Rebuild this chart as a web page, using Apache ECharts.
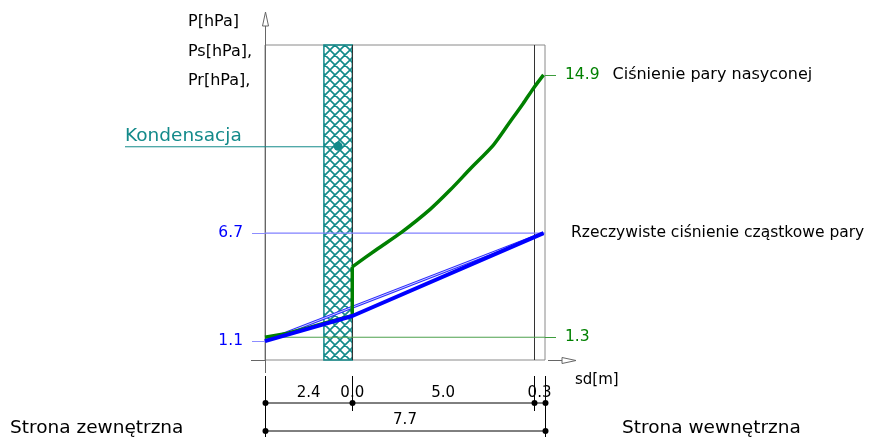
<!DOCTYPE html>
<html>
<head>
<meta charset="utf-8">
<script src="https://cdn.jsdelivr.net/npm/echarts@6/dist/echarts.min.js"></script>
<style>
  html, body { margin: 0; padding: 0; background: #fff; }
  #chart { width: 871px; height: 437px; }
</style>
</head>
<body>
<div id="chart"></div>
<script>
// warstwy (grubosci sd w m) i strefa kondensacji
const layerSd = [2.4, 0.0, 5.0, 0.3]
const condZone = [1.62, 2.4]
const condPoint = [2.01, 11.2]

// cisnienie pary nasyconej Ps (skok na granicy warstw przy sd = 2.4)
const psX = [0, 0.6, 1.2, 1.8, 2.4, 2.4, 3.07, 3.76, 4.54, 5.09, 5.64, 6.28, 6.74, 7.10, 7.38, 7.66]
const psY = [1.3, 1.5, 1.8, 2.12, 2.42, 4.95, 5.85, 6.75, 7.93, 8.93, 10.02, 11.26, 12.47, 13.42, 14.2, 14.9]
const psJump = 5

// rzeczywiste cisnienie czastkowe Pr
const prX = [0, 2.4, 7.66]
const prY = [1.1, 2.4, 6.7]
const prLineX = [0, 7.66]
const prLineY = [1.1, 6.7]

const leftTicks = [1.1, 6.7]
const rightTicks = [1.3, 14.9]

const FONT = 'DejaVu Sans'
const BLUE = '#0000ff'
const GREEN = '#008000'
const TEAL = '#138a8a'
const yMin = 0.12, yMax = 16.45

const cum = [0]
layerSd.forEach(t => cum.push(+(cum[cum.length - 1] + t).toFixed(2)))
const totalSd = cum[cum.length - 1]

const hatch = () => {
  const c = document.createElement('canvas')
  c.width = 10; c.height = 10
  const g = c.getContext('2d')
  g.strokeStyle = TEAL; g.lineWidth = 1.6
  g.beginPath()
  for (const dx of [-10, 0, 10]) {
    g.moveTo(dx, 0); g.lineTo(dx + 10, 10)
    g.moveTo(dx + 10, 0); g.lineTo(dx, 10)
  }
  g.stroke()
  return c
}

const zip = (xs, ys) => xs.map((x, i) => [x, ys[i]])
const hLine = (y, color, width, label) => ({
  type: 'line', data: [[0, y], [totalSd, y]], z: 2, silent: true, symbol: 'none',
  lineStyle: { color, width },
  endLabel: label
    ? { show: true, distance: 26, formatter: label, color: '#000', fontSize: 15.5, fontFamily: FONT }
    : { show: false },
})

const chart = echarts.init(document.getElementById('chart'))
chart.setOption({
  animation: false,
  grid: {
    left: 265, top: 45, width: 280, height: 315, show: true,
    borderColor: '#8a8a8a', borderWidth: 1, backgroundColor: 'transparent',
    outerBoundsMode: 'none',
  },
  xAxis: {
    type: 'value', min: 0, max: totalSd,
    axisLine: { show: false }, axisTick: { show: false }, axisLabel: { show: false }, splitLine: { show: false },
  },
  yAxis: [
    {
      type: 'value', min: yMin, max: yMax, position: 'left',
      axisLine: { show: false }, splitLine: { show: false },
      axisTick: { show: true, customValues: leftTicks, length: 13, lineStyle: { color: '#8c8cff', width: 1 } },
      axisLabel: { show: true, customValues: leftTicks, margin: 22, color: BLUE, fontSize: 15.5, fontFamily: FONT },
    },
    {
      type: 'value', min: yMin, max: yMax, position: 'right',
      axisLine: { show: false }, splitLine: { show: false },
      axisTick: { show: true, customValues: rightTicks, length: 11, lineStyle: { color: '#3c9c3c', width: 1 } },
      axisLabel: {
        show: true, customValues: rightTicks, margin: 20, fontSize: 15.5, fontFamily: FONT,
        formatter: v => v === rightTicks[1] ? `{g|${v}}{k|Ciśnienie pary nasyconej}` : `{g|${v}}`,
        rich: {
          g: { color: GREEN, fontSize: 15.5, fontFamily: FONT },
          k: { color: '#000', fontSize: 16, fontFamily: FONT, padding: [0, 0, 0, 13] },
        },
      },
    },
  ],
  series: [
    {
      type: 'line', data: [], z: 1, silent: true,
      markArea: {
        silent: true, z: 1,
        itemStyle: { color: { image: hatch(), repeat: 'repeat' }, borderColor: TEAL, borderWidth: 1.5 },
        data: [[{ xAxis: condZone[0], yAxis: yMax }, { xAxis: condZone[1], yAxis: yMin }]],
      },
      markLine: {
        silent: true, symbol: 'none', label: { show: false }, z: 1,
        lineStyle: { color: '#333', width: 1, type: 'solid' },
        data: cum.slice(1, -1).map(b => ({ xAxis: b })),
      },
    },
    hLine(leftTicks[1], '#8080ff', 1.3, 'Rzeczywiste ciśnienie cząstkowe pary'),
    hLine(rightTicks[0], '#4ca04c', 1, null),
    {
      type: 'line', data: zip(prLineX, prLineY), z: 3, symbol: 'none', silent: true,
      lineStyle: { color: '#2a2aff', width: 3 },
    },
    {
      type: 'line', data: zip(prLineX, prLineY), z: 3, symbol: 'none', silent: true,
      lineStyle: { color: '#d0d0ff', width: 1 },
    },
    {
      name: 'Ps', type: 'line', data: zip(psX, psY).slice(0, psJump + 1), z: 4, symbol: 'none', silent: true,
      lineStyle: { color: GREEN, width: 3.5 },
    },
    {
      name: 'Ps', type: 'line', data: zip(psX, psY).slice(psJump), z: 4, symbol: 'none', silent: true,
      smooth: 0.25,
      lineStyle: { color: GREEN, width: 3.5 },
    },
    {
      name: 'Pr', type: 'line', data: zip(prX, prY), z: 5, symbol: 'none', silent: true,
      lineStyle: { color: BLUE, width: 4 },
    },
    {
      type: 'scatter', data: [condPoint], z: 6, symbolSize: 9, silent: true,
      itemStyle: { color: TEAL, opacity: 1 },
    },
  ],
})

// dekoracje: osie ze strzalkami, podpisy, wymiarowanie
const px = p => chart.convertToPixel({ gridIndex: 0 }, p)
const [x0, yb] = px([0, yMin])
const [x1] = px([totalSd, yMin])
const axisCol = '#666'
const txt = (x, y, text, opt = {}) => ({
  type: 'text', x, y,
  style: Object.assign({ text, fill: '#000', fontSize: 16, fontFamily: FONT, align: 'left', verticalAlign: 'middle' }, opt),
})
const ln = (xa, ya, xb, yb2, stroke = '#000', lw = 1) => ({
  type: 'line', shape: { x1: xa, y1: ya, x2: xb, y2: yb2 }, style: { stroke, lineWidth: lw },
})
const g = []

g.push(ln(x0 + 0.5, 14, x0 + 0.5, yb + 13, axisCol))
g.push({ type: 'polygon', shape: { points: [[x0 + 0.5, 12], [x0 - 2.5, 26], [x0 + 3.5, 26]] }, style: { fill: '#fff', stroke: axisCol } })
g.push(ln(x0 - 14, yb + 0.5, x0, yb + 0.5, axisCol))
g.push(ln(x1 + 3, yb + 0.5, x1 + 18, yb + 0.5, axisCol))
g.push({ type: 'polygon', shape: { points: [[x1 + 31, yb + 0.5], [x1 + 17, yb - 2.5], [x1 + 17, yb + 3.5]] }, style: { fill: '#fff', stroke: axisCol } })

g.push(txt(188, 22, 'P[hPa]'))
g.push(txt(188, 52, 'Ps[hPa],'))
g.push(txt(188, 81, 'Pr[hPa],'))
g.push(txt(x1 + 30, yb + 20, 'sd[m]', { fontSize: 15 }))

const cp = px(condPoint)
g.push(ln(125, cp[1] + 0.5, cp[0], cp[1] + 0.5, TEAL))
g.push(txt(125, cp[1] - 10, 'Kondensacja', { fill: TEAL, fontSize: 18.5 }))

const d1 = yb + 43, d2 = yb + 71, dTop = yb + 16
const bounds = [...new Set(cum)]
bounds.forEach((b, i) => {
  const bx = Math.round(px([b, yMin])[0]) + 0.5
  const outer = i === 0 || i === bounds.length - 1
  g.push(ln(bx, dTop, bx, outer ? 437 : yb + 51))
  g.push({ type: 'circle', shape: { cx: bx, cy: d1, r: 3 }, style: { fill: '#000' } })
  if (outer) g.push({ type: 'circle', shape: { cx: bx, cy: d2, r: 3 }, style: { fill: '#000' } })
})
g.push(ln(x0, d1, x1, d1))
g.push(ln(x0, d2, x1, d2))
layerSd.forEach((t, i) => {
  const mx = px([(cum[i] + cum[i + 1]) / 2, yMin])[0]
  g.push(txt(mx, yb + 33, t.toFixed(1), { align: 'center', fontSize: 15 }))
})
g.push(txt(px([totalSd / 2, yMin])[0], yb + 60, totalSd.toFixed(1), { align: 'center', fontSize: 15 }))

g.push(txt(10, 428, 'Strona zewnętrzna', { fontSize: 18.5 }))
g.push(txt(622, 428, 'Strona wewnętrzna', { fontSize: 18.5 }))

chart.setOption({ graphic: { elements: g } })
</script>
</body>
</html>
